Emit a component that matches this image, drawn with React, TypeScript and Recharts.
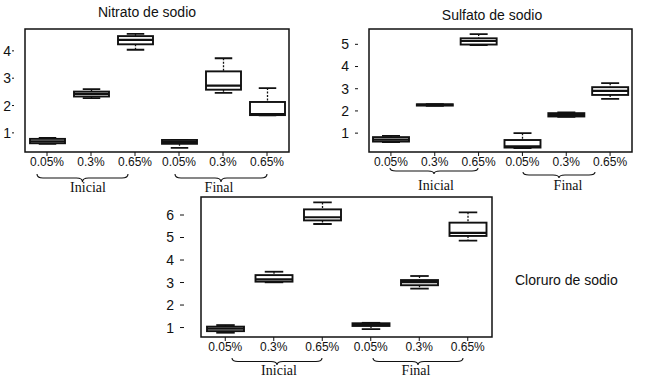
import { BarChart, Bar, XAxis, YAxis, ReferenceArea } from "recharts";

// categories on every panel (two groups of three)
const categories = ["0.05%", "0.3%", "0.65%", "0.05%", "0.3%", "0.65%"];
const groups = ["Inicial", "Inicial", "Inicial", "Final", "Final", "Final"];
const groupLabels = ["Inicial", "Final"];

// Nitrato de sodio
const nitratoMin = [0.6, 2.27, 4.04, 0.45, 2.46, 1.64];
const nitratoQ1 = [0.62, 2.33, 4.24, 0.6, 2.58, 1.65];
const nitratoMed = [0.69, 2.43, 4.4, 0.66, 2.73, 1.69];
const nitratoQ3 = [0.78, 2.51, 4.54, 0.74, 3.25, 2.13];
const nitratoMax = [0.82, 2.6, 4.62, 0.74, 3.73, 2.64];
const nitratoTicks = [1, 2, 3, 4];

// Sulfato de sodio
const sulfatoMin = [0.6, 2.23, 4.97, 0.33, 1.73, 2.54];
const sulfatoQ1 = [0.62, 2.24, 4.99, 0.35, 1.75, 2.72];
const sulfatoMed = [0.71, 2.27, 5.15, 0.4, 1.82, 2.9];
const sulfatoQ3 = [0.82, 2.3, 5.27, 0.69, 1.9, 3.07];
const sulfatoMax = [0.88, 2.31, 5.46, 1.0, 1.93, 3.25];
const sulfatoTicks = [1, 2, 3, 4, 5];

// Cloruro de sodio
const cloruroMin = [0.77, 3.01, 5.6, 0.93, 2.73, 4.86];
const cloruroQ1 = [0.84, 3.04, 5.76, 1.07, 2.88, 5.07];
const cloruroMed = [0.95, 3.14, 5.9, 1.12, 3.02, 5.21];
const cloruroQ3 = [1.04, 3.33, 6.25, 1.19, 3.11, 5.66];
const cloruroMax = [1.11, 3.48, 6.56, 1.21, 3.29, 6.12];
const cloruroTicks = [1, 2, 3, 4, 5, 6];

const SANS = "'Liberation Sans', Arial, sans-serif";
const SERIF = "'Liberation Serif', 'Times New Roman', serif";
const INK = "#111";
const TEXT = "#111";

const buildRows = (mn: number[], q1: number[], med: number[], q3: number[], mx: number[]) =>
  categories.map((c, i) => ({
    cat: `${groups[i]}|${c}`,
    min: mn[i],
    q1: q1[i],
    med: med[i],
    q3: q3[i],
    max: mx[i],
  }));

// box drawn inside the [min, max] range bar the library lays out
function BoxShape(props: any) {
  const { x, y, width, height, payload } = props;
  if (x == null || !payload) return null;
  const top = Math.min(y, y + height);
  const bottom = Math.max(y, y + height);
  const span = payload.max - payload.min || 1;
  const py = (v: number) => bottom - ((v - payload.min) / span) * (bottom - top);
  const cx = x + width / 2;
  const cap = width / 4;
  return (
    <g>
      <line x1={cx} x2={cx} y1={py(payload.max)} y2={py(payload.q3)} stroke={INK} strokeWidth={1.3} strokeDasharray="2 1.5" />
      <line x1={cx} x2={cx} y1={py(payload.q1)} y2={py(payload.min)} stroke={INK} strokeWidth={1.3} strokeDasharray="2 1.5" />
      <line x1={cx - cap} x2={cx + cap} y1={py(payload.max)} y2={py(payload.max)} stroke={INK} strokeWidth={1.8} />
      <line x1={cx - cap} x2={cx + cap} y1={py(payload.min)} y2={py(payload.min)} stroke={INK} strokeWidth={1.8} />
      <rect
        x={x}
        y={py(payload.q3)}
        width={width}
        height={Math.max(py(payload.q1) - py(payload.q3), 0.5)}
        fill="#fff"
        stroke={INK}
        strokeWidth={1.9}
      />
      <line x1={x} x2={x + width} y1={py(payload.med)} y2={py(payload.med)} stroke={INK} strokeWidth={2.2} />
    </g>
  );
}

interface PanelProps {
  rows: ReturnType<typeof buildRows>;
  plot: { x: number; y: number; w: number; h: number };
  domain: [number, number];
  ticks: number[];
  pad: { left: number; right: number };
  barSize: number;
  yTickSize: number;
  yTickMargin: number;
}

const Panel = ({ rows, plot, domain, ticks, pad, barSize, yTickSize, yTickMargin }: PanelProps) => {
  const yw = 30;
  const xh = 26;
  return (
    <div style={{ position: "absolute", left: plot.x - yw, top: plot.y - 4 }}>
      <BarChart
        width={plot.w + yw + 4}
        height={plot.h + 4 + xh}
        data={rows}
        margin={{ top: 4, right: 4, bottom: 0, left: 0 }}
      >
        <XAxis
          dataKey="cat"
          type="category"
          interval={0}
          height={xh}
          padding={pad}
          axisLine={false}
          tickLine={{ stroke: INK }}
          tickSize={4}
          tickMargin={1}
          tick={{ fontSize: 12, fill: TEXT, fontFamily: SANS }}
          tickFormatter={(v: string) => v.split("|")[1]}
        />
        <YAxis
          type="number"
          domain={domain}
          ticks={ticks}
          interval={0}
          allowDataOverflow
          width={yw}
          axisLine={false}
          tickLine={{ stroke: INK }}
          tickSize={yTickSize}
          tickMargin={yTickMargin}
          tick={{ fontSize: 14, fill: TEXT, fontFamily: SANS }}
        />
        <ReferenceArea y1={domain[0]} y2={domain[1]} fill="none" stroke={INK} strokeWidth={1.5} ifOverflow="visible" />
        <Bar
          dataKey={(d: any) => [d.min, d.max]}
          barSize={barSize}
          shape={(p: any) => <BoxShape {...p} />}
          isAnimationActive={false}
        />
      </BarChart>
    </div>
  );
};

const bracePath = (x1: number, x2: number, y: number, h: number) => {
  const mid = (x1 + x2) / 2;
  const r = 6;
  const ym = y + h / 2;
  return `M${x1},${y} Q${x1},${ym} ${x1 + r},${ym} L${mid - r},${ym} Q${mid},${ym} ${mid},${y + h} Q${mid},${ym} ${mid + r},${ym} L${x2 - r},${ym} Q${x2},${ym} ${x2},${y}`;
};

// brace annotations: [x1, x2, y, h, labelX, labelY]
const braces = [
  [37, 128, 174, 8, 88, 187],
  [175, 267, 174, 8, 219, 187],
  [390, 478, 168, 6, 436, 185],
  [523, 595, 172, 6, 568, 185],
  [232, 322, 358, 7, 279, 370],
  [373, 463, 358, 7, 416, 370],
];

export default function App() {
  return (
    <div style={{ position: "absolute", left: 0, top: 0, width: 649, height: 382, background: "#fff", overflow: "hidden" }}>
      <Panel
        rows={buildRows(nitratoMin, nitratoQ1, nitratoMed, nitratoQ3, nitratoMax)}
        plot={{ x: 14, y: 29, w: 285, h: 123 }}
        domain={[0.3, 4.8]}
        ticks={nitratoTicks}
        pad={{ left: 11, right: 10 }}
        barSize={35}
        yTickSize={2}
        yTickMargin={1}
      />
      <Panel
        rows={buildRows(sulfatoMin, sulfatoQ1, sulfatoMed, sulfatoQ3, sulfatoMax)}
        plot={{ x: 358, y: 29, w: 285, h: 123 }}
        domain={[0.15, 5.69]}
        ticks={sulfatoTicks}
        pad={{ left: 11, right: 11 }}
        barSize={36}
        yTickSize={3}
        yTickMargin={6}
      />
      <Panel
        rows={buildRows(cloruroMin, cloruroQ1, cloruroMed, cloruroQ3, cloruroMax)}
        plot={{ x: 184, y: 197, w: 319, h: 140 }}
        domain={[0.58, 6.8]}
        ticks={cloruroTicks}
        pad={{ left: 17, right: 11 }}
        barSize={37}
        yTickSize={4}
        yTickMargin={6}
      />
      <svg width={649} height={382} style={{ position: "absolute", left: 0, top: 0, pointerEvents: "none" }}>
        <text x={147} y={12} textAnchor="middle" dominantBaseline="central" fontSize={14} fontFamily={SANS} fill={TEXT}>
          Nitrato de sodio
        </text>
        <text x={492} y={15} textAnchor="middle" dominantBaseline="central" fontSize={14} fontFamily={SANS} fill={TEXT}>
          Sulfato de sodio
        </text>
        <text x={515} y={280} dominantBaseline="central" fontSize={14} fontFamily={SANS} fill={TEXT}>
          Cloruro de sodio
        </text>
        {braces.map(([x1, x2, y, h, lx, ly], i) => (
          <g key={i}>
            <path d={bracePath(x1, x2, y, h)} fill="none" stroke={INK} strokeWidth={1.1} />
            <text x={lx} y={ly} textAnchor="middle" dominantBaseline="central" fontSize={14} fontFamily={SERIF} fill={TEXT}>
              {groupLabels[i % 2]}
            </text>
          </g>
        ))}
      </svg>
    </div>
  );
}
